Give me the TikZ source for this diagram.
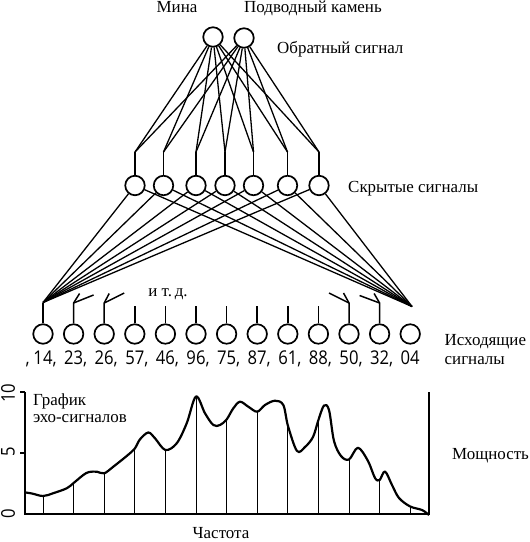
\documentclass[tikz,border=0pt]{standalone}
\usepackage{fontspec}
\setmainfont{Liberation Serif}
\newfontfamily\digitfont[FakeStretch=0.88]{Open Sans}
\usetikzlibrary{positioning}
\tikzset{
  neuron/.style={
    circle, draw, line width=1.7pt, minimum size=19.5bp,
    inner sep=0pt, fill=white
  },
  stem/.style={line width=1.5pt},
  link/.style={line width=1.3pt},
  netlabel/.style={
    font=\fontsize{17}{20}\selectfont, inner sep=0pt
  },
  digitlabel/.style={
    font=\digitfont\fontsize{19}{21}\selectfont, inner sep=0pt
  },
  echocurve/.style={line width=2.2pt, line join=round},
  echobar/.style={line width=0.9pt},
  chartaxis/.style={line width=1.4pt},
}

\begin{document}
\begin{tikzpicture}[x=1bp, y=-1bp]
  \useasboundingbox (0,0) rectangle (530,542);

  % --- Output layer ---
  \node[neuron] (mine) at (213,37) {};
  \node[neuron] (rock) at (244,38) {};
  \node[netlabel, anchor=base] (minelabel) at (177,13) {Мина};
  \node[netlabel, anchor=base west] (rocklabel) at (244,13) {Подводный камень};
  \node[netlabel, anchor=base west] (outlabel) at (277,54) {Обратный сигнал};

  % --- Hidden layer ---
  \foreach \x [count=\i] in {135,163.5,196,225,253.5,287.5,319} {
    \node[neuron] (hid\i) at (\x,185.5) {};
    \coordinate (top\i) at (\x,152);
    \draw[stem] (hid\i) -- (top\i);
  }
  \node[netlabel, anchor=base west] (hidlabel) at (348,193) {Скрытые сигналы};

  % --- Links: output -- hidden ---
  \foreach \i in {1,...,7} {
    \draw[link] (mine) -- (top\i);
    \draw[link] (rock) -- (top\i);
  }

  % --- Input layer ---
  \foreach \i in {1,...,13} {
    \node[neuron] (in\i) at ({43+30.6*(\i-1)},334) {};
  }
  \coordinate (fanL) at (43,302.5);
  \coordinate (fanR) at (412,306.5);

  % --- Links: hidden -- input ---
  \foreach \i in {1,...,7} {
    \draw[link] (hid\i) -- (fanL);
    \draw[link] (hid\i) -- (fanR);
  }
  \draw[stem] (in1) -- (fanL);

  % --- Plain stems ---
  \foreach \i in {4,...,10} {
    \draw[stem] (in\i.north) -- ++(0,-17);
  }

  % --- Forked stems ---
  \coordinate (fork2) at (73.6,303);
  \coordinate (fork3) at (104.2,303);
  \coordinate (fork11) at (349,303);
  \coordinate (fork12) at (379.6,303);
  \draw[stem] (in2) -- (fork2) -- ++(6,-9.5);
  \draw[stem] (fork2) -- ++(20,-8);
  \draw[stem] (in3) -- (fork3) -- ++(5,-9.5);
  \draw[stem] (fork3) -- ++(20,-10);
  \draw[stem] (in11) -- (fork11) -- ++(-5.5,-10);
  \draw[stem] (fork11) -- ++(-20,-10);
  \draw[stem] (in12) -- (fork12) -- ++(-5.5,-9.5);
  \draw[stem] (fork12) -- ++(-20,-7.5);

  \node[netlabel, anchor=base] (etclabel) at (168,296.5) {и т.\,д.};

  % --- Input values ---
  \foreach \v [count=\i] in {14,23,26,57,46,96,75,87,61,88,50,32} {
    \node[digitlabel, anchor=base] (val\i) at ({43+30.6*(\i-1)},364.5) {\v\rlap{,}};
  }
  \node[digitlabel, anchor=base] (val13) at (410.2,364.5) {04};
  \node[digitlabel, anchor=base east] (lead) at (30,364.5) {,};
  \node[netlabel, anchor=base west] (inlabelA) at (444.5,345.5) {Исходящие};
  \node[netlabel, anchor=base west] (inlabelB) at (444.5,364) {сигналы};

  % --- Echo chart ---
  \draw[chartaxis] (25,392) -- (25,514) -- (429,514) -- (429,392);
  \draw[chartaxis] (20,392) -- (25,392);
  \draw[chartaxis] (20,453) -- (25,453);
  \node[digitlabel, rotate=90] (tick10) at (8,393) {10};
  \node[digitlabel, rotate=90] (tick5) at (8,452) {5};
  \node[digitlabel, rotate=90] (tick0) at (8,514) {0};

  \foreach \x/\y in {43/496, 73.6/483, 104.2/473.3, 134.8/448.5, 165.4/450,
      196/397, 226.6/419.5, 257.2/411.7, 287.8/426, 318.4/420,
      349/459.5, 379.6/480, 410.2/506.5} {
    \draw[echobar] (\x,514) -- (\x,\y);
  }
  \draw[echocurve] plot[smooth, tension=0.55] coordinates {
    (25.5,492.5) (32,493.5) (43,496) (53,493.3) (66.7,488.3) (73.6,483)
    (83.3,475) (89,472) (97,471.7) (104.2,473.3) (113.3,466.7) (126.7,456)
    (134.8,448.5) (140,439.3) (148.3,432.5) (155,438.3) (165.4,450)
    (176.7,443.3) (186.7,423.3) (196,396.5) (205,413.3) (213.3,425) (220,425)
    (226.6,419.5) (233.3,408.3) (240,401.7) (248.3,406.7) (257.2,411.7)
    (265,405) (275,400.7) (283.3,405) (288,426) (297,451) (305,447) (313,437)
    (318.4,420) (324,405.5) (329,410) (334,441) (341,456) (349,459.5)
    (358,447.7) (368,461) (375,478) (379.6,480) (385,471.5) (392,485)
    (399,498) (410.2,506.5) (422,510) (429,515)
  };

  \node[netlabel, anchor=base west] (chartlabelA) at (33,405) {График};
  \node[netlabel, anchor=base west] (chartlabelB) at (33,422) {эхо-сигналов};
  \node[netlabel, anchor=base west] (powerlabel) at (452,459.5) {Мощность};
  \node[netlabel, anchor=base] (freqlabel) at (221,538) {Частота};
\end{tikzpicture}
\end{document}
